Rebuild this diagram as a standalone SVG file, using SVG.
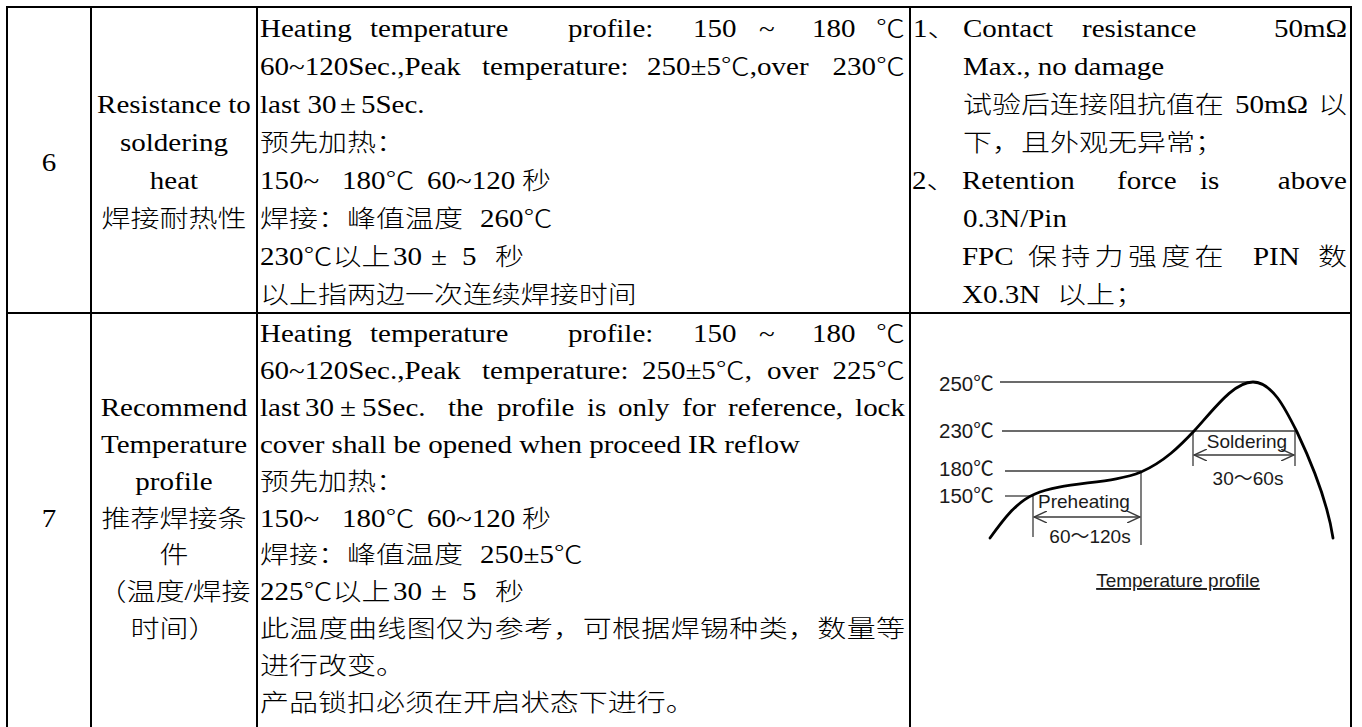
<svg xmlns="http://www.w3.org/2000/svg" width="1362" height="727" viewBox="0 0 1362 727">
<style>
  .t { font-family: "Liberation Serif", "Noto Sans CJK SC", serif; font-size: 29px; font-weight: 300; fill: #000; }
  .m { text-anchor: middle; }
  .e { text-anchor: end; }
  .grid line { stroke: #000; stroke-width: 2; }
  .lab { font-family: "Liberation Sans", "Noto Sans CJK SC", sans-serif; font-size: 19px; fill: #1a1a1a; }
  .lv { font-size: 20.5px; }
  .ref { stroke: #3a3a3a; stroke-width: 1.3; fill: none; }
  .dim { stroke: #3a3a3a; stroke-width: 1.3; fill: none; marker-start: url(#ah); marker-end: url(#ah); }
  .curve { stroke: #000; stroke-width: 2.8; fill: none; stroke-linecap: round; stroke-linejoin: round; }
</style>
<defs>
  <marker id="ah" viewBox="0 0 14 12" refX="13" refY="6" markerWidth="14" markerHeight="12" orient="auto-start-reverse" markerUnits="userSpaceOnUse">
    <path d="M0,0 L13,6 L0,12" fill="none" stroke="#3a3a3a" stroke-width="1.4"/>
  </marker>
</defs>
<rect x="0" y="0" width="1362" height="727" fill="#fff"/>

<g id="grid" class="grid">
  <line x1="6" y1="7" x2="1352" y2="7"/>
  <line x1="6" y1="313" x2="1352" y2="313"/>
  <line x1="7" y1="6" x2="7" y2="727"/>
  <line x1="91" y1="6" x2="91" y2="727"/>
  <line x1="257" y1="6" x2="257" y2="727"/>
  <line x1="910" y1="6" x2="910" y2="727"/>
  <line x1="1351" y1="6" x2="1351" y2="727"/>
</g>

<g id="row6">
  <g id="r6-no">
    <text class="t m" transform="translate(0,171) scale(1,0.84)" x="49">6</text>
  </g>
  <g id="r6-item">
    <text class="t m" transform="translate(0,113) scale(1,0.84)" x="174">Resistance to</text>
    <text class="t m" transform="translate(0,151) scale(1,0.84)" x="174">soldering</text>
    <text class="t m" transform="translate(0,189) scale(1,0.84)" x="174">heat</text>
    <text class="t m" transform="translate(0,227) scale(1,0.84)" x="174">焊接耐热性</text>
  </g>
  <g id="r6-cond">
    <text class="t" transform="translate(0,37) scale(1,0.84)"><tspan x="260">Heating</tspan><tspan x="370">temperature</tspan><tspan x="568">profile:</tspan><tspan x="693">150</tspan><tspan x="759">~</tspan><tspan x="812">180</tspan><tspan x="876">℃</tspan></text>
    <text class="t" transform="translate(0,75) scale(1,0.84)"><tspan x="260">60~120Sec.,Peak</tspan><tspan x="482">temperature:</tspan><tspan x="647">250±5℃,over</tspan><tspan x="905" class="e">230℃</tspan></text>
    <text class="t" transform="translate(0,113) scale(1,0.84)"><tspan x="260">last 30</tspan><tspan x="340">±</tspan><tspan x="361">5Sec.</tspan></text>
    <text class="t" transform="translate(0,151) scale(1,0.84)" x="260">预先加热：</text>
    <text class="t" transform="translate(0,189) scale(1,0.84)"><tspan x="260">150~</tspan><tspan x="342">180℃</tspan><tspan x="427">60~120</tspan><tspan x="522">秒</tspan></text>
    <text class="t" transform="translate(0,227) scale(1,0.84)"><tspan x="260">焊接：峰值温度</tspan><tspan x="480">260℃</tspan></text>
    <text class="t" transform="translate(0,265) scale(1,0.84)"><tspan x="260">230℃以上</tspan><tspan x="393">30</tspan><tspan x="431">±</tspan><tspan x="462">5</tspan><tspan x="495">秒</tspan></text>
    <text class="t" transform="translate(0,303) scale(1,0.84)" x="260">以上指两边一次连续焊接时间</text>
  </g>
  <g id="r6-req">
    <text class="t" transform="translate(0,37) scale(1,0.84)"><tspan x="913">1、</tspan><tspan x="963">Contact</tspan><tspan x="1082">resistance</tspan><tspan x="1347" class="e">50mΩ</tspan></text>
    <text class="t" transform="translate(0,75) scale(1,0.84)" x="963">Max., no damage</text>
    <text class="t" transform="translate(0,113) scale(1,0.84)"><tspan x="963">试验后连接阻抗值在</tspan><tspan x="1235">50mΩ</tspan><tspan x="1318">以</tspan></text>
    <text class="t" transform="translate(0,151) scale(1,0.84)" x="963">下，且外观无异常；</text>
    <text class="t" transform="translate(0,189) scale(1,0.84)"><tspan x="912">2、</tspan><tspan x="962">Retention</tspan><tspan x="1117">force</tspan><tspan x="1200">is</tspan><tspan x="1347" class="e">above</tspan></text>
    <text class="t" transform="translate(0,227) scale(1,0.84)" x="963">0.3N/Pin</text>
    <text class="t" transform="translate(0,265) scale(1,0.84)"><tspan x="962">FPC</tspan><tspan x="1028 1061.3 1094.6 1128 1161.3 1194.6">保持力强度在</tspan><tspan x="1253">PIN</tspan><tspan x="1318">数</tspan></text>
    <text class="t" transform="translate(0,303) scale(1,0.84)"><tspan x="962">X0.3N</tspan><tspan x="1057">以上；</tspan></text>
  </g>
</g>

<g id="row7">
  <g id="r7-no">
    <text class="t m" transform="translate(0,527) scale(1,0.84)" x="49">7</text>
  </g>
  <g id="r7-item">
    <text class="t m" transform="translate(0,415.8) scale(1,0.84)" x="174">Recommend</text>
    <text class="t m" transform="translate(0,452.7) scale(1,0.84)" x="174">Temperature</text>
    <text class="t m" transform="translate(0,489.6) scale(1,0.84)" x="174">profile</text>
    <text class="t m" transform="translate(0,526.5) scale(1,0.84)" x="174">推荐焊接条</text>
    <text class="t m" transform="translate(0,563.4) scale(1,0.84)" x="174">件</text>
    <text class="t m" transform="translate(0,600.3) scale(1,0.84)" x="174">（温度/焊接</text>
    <text class="t m" transform="translate(0,637.2) scale(1,0.84)" x="174">时间）</text>
  </g>
  <g id="r7-cond">
    <text class="t" transform="translate(0,342) scale(1,0.84)"><tspan x="260">Heating</tspan><tspan x="370">temperature</tspan><tspan x="568">profile:</tspan><tspan x="693">150</tspan><tspan x="759">~</tspan><tspan x="812">180</tspan><tspan x="876">℃</tspan></text>
    <text class="t" transform="translate(0,378.9) scale(1,0.84)"><tspan x="260">60~120Sec.,Peak</tspan><tspan x="482">temperature:</tspan><tspan x="642">250±5℃,</tspan><tspan x="767">over</tspan><tspan x="905" class="e">225℃</tspan></text>
    <text class="t" transform="translate(0,415.8) scale(1,0.84)"><tspan x="260">last</tspan><tspan x="305">30</tspan><tspan x="340">±</tspan><tspan x="362">5Sec.</tspan><tspan x="448">the</tspan><tspan x="497">profile</tspan><tspan x="587">is</tspan><tspan x="618">only</tspan><tspan x="682">for</tspan><tspan x="728">reference,</tspan><tspan x="905" class="e">lock</tspan></text>
    <text class="t" transform="translate(0,452.7) scale(1,0.84)" x="260">cover shall be opened when proceed IR reflow</text>
    <text class="t" transform="translate(0,489.6) scale(1,0.84)" x="260">预先加热：</text>
    <text class="t" transform="translate(0,526.5) scale(1,0.84)"><tspan x="260">150~</tspan><tspan x="342">180℃</tspan><tspan x="427">60~120</tspan><tspan x="522">秒</tspan></text>
    <text class="t" transform="translate(0,563.4) scale(1,0.84)"><tspan x="260">焊接：峰值温度</tspan><tspan x="480">250±5℃</tspan></text>
    <text class="t" transform="translate(0,600.3) scale(1,0.84)"><tspan x="260">225℃以上</tspan><tspan x="393">30</tspan><tspan x="431">±</tspan><tspan x="462">5</tspan><tspan x="495">秒</tspan></text>
    <text class="t" transform="translate(0,637.2) scale(1,0.84)" x="260" textLength="645" lengthAdjust="spacing">此温度曲线图仅为参考，可根据焊锡种类，数量等</text>
    <text class="t" transform="translate(0,674.1) scale(1,0.84)" x="260">进行改变。</text>
    <text class="t" transform="translate(0,711) scale(1,0.84)" x="260">产品锁扣必须在开启状态下进行。</text>
  </g>
  <g id="r7-chart">
    <g id="chart-levels">
      <line class="ref" x1="1000" y1="382" x2="1253" y2="382"/>
      <line class="ref" x1="1002" y1="431" x2="1295" y2="431"/>
      <line class="ref" x1="1005" y1="471" x2="1141" y2="471"/>
      <line class="ref" x1="1005" y1="496" x2="1033" y2="496"/>
      <line class="ref" x1="1193" y1="431" x2="1193" y2="466"/>
      <line class="ref" x1="1295" y1="431" x2="1295" y2="466"/>
      <line class="ref" x1="1141" y1="471" x2="1141" y2="545"/>
      <line class="ref" x1="1033" y1="496" x2="1033" y2="537"/>
    </g>
    <g id="chart-dims">
      <line class="dim" x1="1194" y1="455" x2="1294" y2="455"/>
      <line class="dim" x1="1034" y1="517" x2="1140" y2="517"/>
    </g>
    <path id="chart-curve" class="curve" d="M990,538 C1003,520 1016,502 1035,494 C1062,482 1112,484 1141,472 C1164,462 1180,446 1195,430 C1215,408 1234,382 1253,382 C1272,382 1285,408 1297,432 C1315,470 1328,505 1333,538"/>
    <g id="chart-labels">
      <text class="lab lv" x="939" y="391">250℃</text>
      <text class="lab lv" x="939" y="438">230℃</text>
      <text class="lab lv" x="939" y="476">180℃</text>
      <text class="lab lv" x="939" y="503">150℃</text>
      <text class="lab m" x="1247" y="448">Soldering</text>
      <text class="lab m" x="1248" y="485">30～60s</text>
      <text class="lab" x="1038" y="508">Preheating</text>
      <text class="lab m" x="1090" y="543">60～120s</text>
      <text class="lab m" x="1178" y="587" font-size="20.5" text-decoration="underline">Temperature profile</text>
    </g>
  </g>
</g>
</svg>
